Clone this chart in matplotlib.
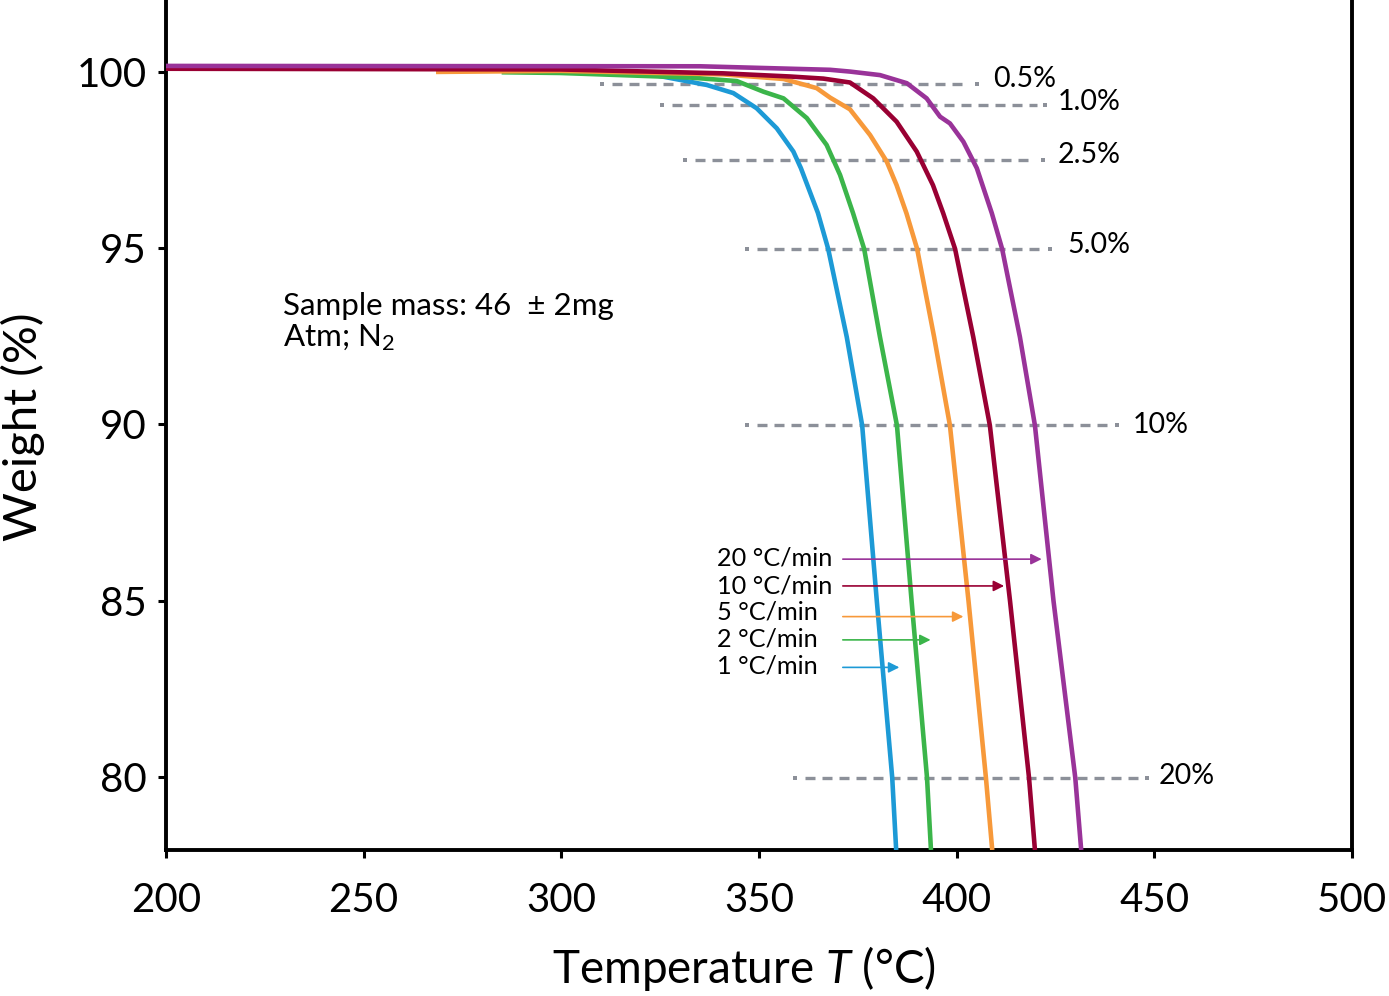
import matplotlib
matplotlib.use("Agg")
import matplotlib.pyplot as plt

plt.rcParams['font.family'] = ['Lato', 'DejaVu Sans']
plt.rcParams['mathtext.fontset'] = 'custom'
plt.rcParams['mathtext.rm'] = 'Lato'
plt.rcParams['mathtext.it'] = 'Lato:italic'

# TGA curves: temperature (°C) and weight (%)
t_1 = [293.8, 307.3, 324.1, 336.8, 343.5, 349.4, 354.5, 358.7, 360.6, 364.9,
       367.5, 372.2, 376.1, 379.8, 383.7, 384.7]
w_1 = [100.0, 100.01, 99.90, 99.63, 99.40, 98.97, 98.40, 97.74, 97.27, 96.0,
       94.98, 92.48, 89.97, 84.99, 79.98, 77.93]

t_2 = [284.9, 299.7, 332.6, 344.4, 351.1, 356.2, 362.1, 367.1, 370.5, 373.8,
       376.6, 380.6, 384.9, 388.6, 392.5, 393.5]
w_2 = [99.99, 99.97, 99.84, 99.74, 99.44, 99.25, 98.69, 97.93, 97.08, 95.99,
       94.98, 92.48, 89.97, 84.99, 79.98, 77.93]

t_5 = [268.3, 299.7, 341.0, 356.2, 364.6, 368.0, 373.0, 378.1, 382.3, 384.8,
       387.3, 390.0, 394.3, 398.3, 403.0, 407.4, 409.0]
w_5 = [100.0, 100.03, 99.93, 99.80, 99.54, 99.27, 98.94, 98.21, 97.46, 96.79,
       95.99, 94.98, 92.48, 89.97, 84.99, 79.98, 77.93]

t_10 = [200.0, 299.7, 340.9, 357.9, 366.3, 373.0, 378.9, 384.8, 389.9, 394.0,
        396.6, 399.6, 404.2, 408.4, 413.5, 418.3, 419.8]
w_10 = [100.09, 100.07, 99.96, 99.87, 99.81, 99.70, 99.25, 98.59, 97.74,
        96.79, 95.99, 94.98, 92.48, 89.97, 84.99, 79.98, 77.93]

t_20 = [200.0, 335.1, 368.0, 373.0, 380.6, 387.4, 392.4, 395.8, 398.3, 401.7,
        405.1, 408.9, 411.5, 416.0, 419.8, 424.5, 430.0, 431.5]
w_20 = [100.17, 100.16, 100.06, 100.01, 99.91, 99.68, 99.25, 98.73, 98.54,
        98.02, 97.27, 95.99, 94.98, 92.48, 89.97, 84.99, 79.98, 77.93]

rate_labels = ['20 °C/min', '10 °C/min', '5 °C/min', '2 °C/min', '1 °C/min']
colors = ['#993399', '#990033', '#f7993a', '#3bb54a', '#1d9ad6']

# weight-loss reference lines: label, level, start, end
loss_labels = ['0.5%', '1.0%', '2.5%', '5.0%', '10%', '20%']
loss_levels = [99.67, 99.06, 97.50, 94.98, 89.98, 79.98]
loss_start = [310.2, 325.4, 331.3, 346.9, 346.9, 359.1]
loss_end = [405.1, 422.4, 421.9, 423.6, 440.5, 448.1]
loss_label_x = [409.2, 425.6, 425.6, 427.9, 444.6, 451.2]
loss_label_y = [99.80, 99.16, 97.65, 95.09, 89.99, 80.03]

# arrows pointing at each curve
arrow_y = [86.18, 85.42, 84.55, 83.89, 83.11]
arrow_label_y = [86.20, 85.43, 84.69, 83.91, 83.15]
arrow_end = [421.5, 412.0, 401.7, 393.4, 385.5]

fig = plt.figure(figsize=(13.89, 9.96), dpi=100)
ax = fig.add_axes([166 / 1389, 1 - 850 / 996, 1186 / 1389, 850 / 996])

gray = '#8c9099'
for y, x0, x1 in zip(loss_levels, loss_start, loss_end):
    # a dot at each end, dashes in between
    ax.plot([x0, x1], [y, y], ls='none', marker='s', ms=2.4, mew=0,
            color=gray, zorder=1)
    ax.plot([x0 + 2.5, x1 - 2.0], [y, y], color=gray, lw=2.4,
            dashes=(3.0, 2.1), solid_capstyle='butt', zorder=1)
for lab, x, y in zip(loss_labels, loss_label_x, loss_label_y):
    ax.text(x, y, lab, fontsize=20.5, ha='left', va='center')

curves = [(t_1, w_1), (t_2, w_2), (t_5, w_5), (t_10, w_10), (t_20, w_20)]
for (t, w), c in zip(curves, colors[::-1]):
    ax.plot(t, w, color=c, lw=3.3, solid_capstyle='butt',
            solid_joinstyle='round', zorder=3)

for lab, c, y, ly, x1 in zip(rate_labels, colors, arrow_y, arrow_label_y,
                             arrow_end):
    ax.annotate('', xy=(x1, y), xytext=(371.2, y),
                arrowprops=dict(arrowstyle='-|>', color=c, lw=1.2,
                                mutation_scale=16, shrinkA=0, shrinkB=0),
                zorder=4)
    ax.text(339.4, ly, lab, fontsize=18.2, ha='left', va='center')

ax.text(229.6, 93.11, 'Sample mass: 46  ± 2mg', fontsize=22.5,
        ha='left', va='baseline')
ax.text(229.6, 92.21, 'Atm; N$_2$', fontsize=22.5, ha='left', va='baseline')

ax.set_xlim(200, 500)
ax.set_ylim(77.93, 102.04)
ax.set_xticks([200, 250, 300, 350, 400, 450, 500])
ax.set_yticks([80, 85, 90, 95, 100])

ax.spines['top'].set_visible(False)
for s in ['left', 'bottom', 'right']:
    ax.spines[s].set_linewidth(2.8)
ax.tick_params(direction='out', length=6, width=2.2, labelsize=29)
ax.tick_params(axis='x', pad=17)
ax.tick_params(axis='y', pad=8)

ax.set_xlabel('Temperature $\\mathit{T}$ (°C)', fontsize=33, va='center')
ax.xaxis.set_label_coords(0.487, -0.139)
ax.set_ylabel('Weight (%)', fontsize=34, va='center')
ax.yaxis.set_label_coords(-0.1206, 0.498)

fig.savefig('out.png', dpi=100)
